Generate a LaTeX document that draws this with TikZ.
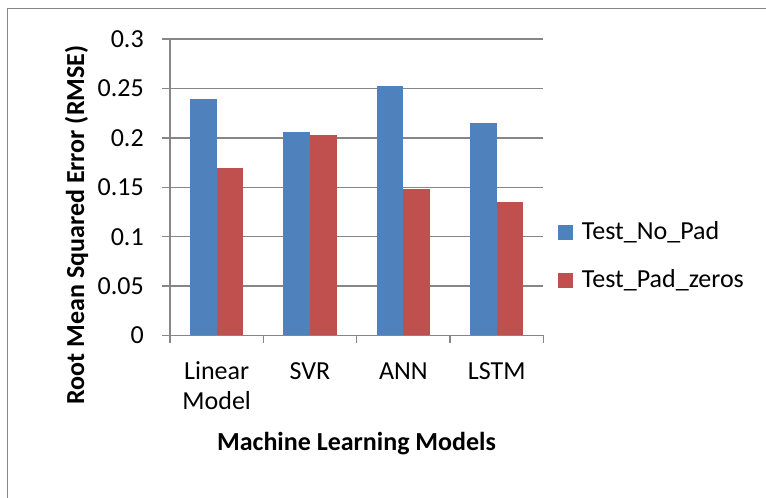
\documentclass[tikz,border=0pt]{standalone}
\usepackage{fontspec}
\setmainfont{Carlito}
\usepackage{xcolor}
\definecolor{barblue}{RGB}{79,129,189}
\definecolor{barred}{RGB}{192,80,77}
\definecolor{gridgray}{RGB}{134,134,134}
\usetikzlibrary{positioning}

\begin{document}
\begin{tikzpicture}[x=0.75pt, y=-0.75pt,
    gridline/.style={gridgray, line width=1.1pt},
    chartfont/.style={font=\fontsize{19.5}{22.5}\selectfont, inner sep=0pt},
    titlefont/.style={font=\fontsize{19.5}{22.5}\selectfont\bfseries, inner sep=0pt}]
    \useasboundingbox (0,0) rectangle (766,498);

    % Chart frame (cut off at right and bottom)
    \draw[gridgray, line width=1.1pt] (7.5,498) -- (7.5,8.5) -- (766,8.5);

    % Horizontal gridlines and value labels
    \foreach \v [count=\i] in {0,0.05,0.1,0.15,0.2,0.25,0.3} {
        \pgfmathsetmacro\yy{335.5-\v*988}
        \draw[gridline] (162,\yy) -- (543,\yy);
        \node[chartfont, anchor=east] (ytick\i) at (144,\yy) {\v};
    }

    % Value axis and category ticks
    \draw[gridline] (170,38.5) -- (170,335.5);
    \foreach \k in {0,...,4}
        \draw[gridline] (170+\k*93.33,335.5) -- (170+\k*93.33,343);

    % Bars: Test_No_Pad (blue) and Test_Pad_zeros (red)
    \foreach \a/\b [count=\i] in {0.2394/0.1695, 0.2060/0.2026, 0.2522/0.1480, 0.2150/0.1354} {
        \pgfmathsetmacro\cx{170+(\i-0.5)*93.33}
        \pgfmathsetmacro\ya{335.5-\a*988}
        \pgfmathsetmacro\yb{335.5-\b*988}
        \fill[barblue] (\cx-26.67,\ya) rectangle (\cx,335.5);
        \fill[barred] (\cx,\yb) rectangle (\cx+26.67,335.5);
    }

    % Category labels
    \node[chartfont, anchor=base, align=center] (catlin) at (216.7,409) {Linear\\Model};
    \node[chartfont, anchor=base] (catsvr) at (310,379) {SVR};
    \node[chartfont, anchor=base] (catann) at (403.3,379) {ANN};
    \node[chartfont, anchor=base] (catlstm) at (496.7,379) {LSTM};

    % Axis titles
    \node[titlefont, anchor=base] (xtitle) at (356.5,450) {Machine Learning Models};
    \node[titlefont, anchor=base, rotate=90] (ytitle) at (84,225) {Root Mean Squared Error (RMSE)};

    % Legend
    \fill[barblue] (558,225) rectangle (572.7,240);
    \node[chartfont, anchor=base west] (legnopad) at (581.7,240) {Test\_No\_Pad};
    \fill[barred] (558,273) rectangle (572.7,288);
    \node[chartfont, anchor=base west] (legpad) at (581.7,288) {Test\_Pad\_zeros};
\end{tikzpicture}
\end{document}
